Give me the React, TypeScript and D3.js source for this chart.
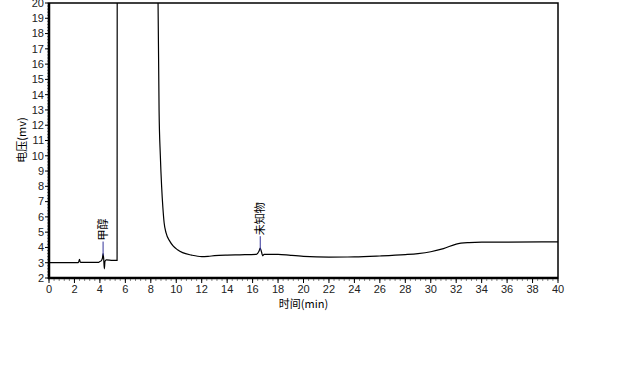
import React from "react";
import * as d3 from "d3";

const times = [0, 2.3, 2.4, 2.45, 2.5, 3.9, 4.0, 4.1, 4.2, 4.25, 4.3, 4.35, 4.4, 4.5, 5.0, 5.35, 5.36, 8.55, 8.57, 8.65, 8.75, 8.85, 8.95, 9.05, 9.2, 9.5, 9.75, 10.1, 10.5, 11.2, 12.0, 12.5, 13, 14, 15, 16.3, 16.5, 16.6, 16.7, 16.8, 16.9, 18, 19, 20, 22, 24, 26, 28, 29, 30, 31, 32, 33, 34, 40];
const volts = [3.0, 3.0, 3.22, 3.05, 3.02, 3.02, 3.08, 3.12, 3.3, 3.6, 3.25, 2.6, 3.1, 3.18, 3.15, 3.15, 21, 21, 20, 13, 10, 8, 6.6, 5.6, 4.95, 4.4, 4.1, 3.85, 3.66, 3.5, 3.4, 3.42, 3.46, 3.5, 3.52, 3.55, 3.75, 3.95, 3.7, 3.45, 3.55, 3.55, 3.48, 3.42, 3.37, 3.38, 3.44, 3.53, 3.6, 3.72, 3.92, 4.22, 4.32, 4.35, 4.36];

const peakNames = ["甲醇", "未知物"];
const peakTimes = [4.25, 16.6];
const peakValues = [3.6, 3.95];

const xTicks = d3.range(0, 41, 2);
const yTicks = d3.range(2, 21, 1);

export default function App() {
  const W = 640, H = 384;
  const left = 49, right = 558, top = 3, bottom = 278;
  const x = d3.scaleLinear().domain([0, 40]).range([left, right]);
  const y = d3.scaleLinear().domain([2, 20]).range([bottom, top]);
  const data = times.map((t, i) => [t, volts[i]] as [number, number]);
  const line = d3.line<[number, number]>().x(d => x(d[0])).y(d => y(d[1])).curve(d3.curveMonotoneX);
  const xMinor = d3.range(0, 40.01, 0.4);
  const yMinor = d3.range(2, 20.01, 0.2);
  const font = "'Liberation Sans', Arial, sans-serif";
  const cjk = "'Noto Sans CJK SC', sans-serif";
  return (
    <svg width={W} height={H} style={{ position: "absolute", left: 0, top: 0, background: "#fff" }}>
      <defs>
        <clipPath id="plot"><rect x={left} y={top} width={right - left} height={bottom - top} /></clipPath>
      </defs>
      <rect x={left} y={top} width={right - left} height={bottom - top} fill="none" stroke="#000" strokeWidth={1.5} />
      {yMinor.map((v, i) => (
        <line key={"ym" + i} x1={left - 2} x2={left} y1={y(v)} y2={y(v)} stroke="#888" strokeWidth={1} />
      ))}
      {xMinor.map((v, i) => (
        <line key={"xm" + i} x1={x(v)} x2={x(v)} y1={bottom} y2={bottom + 3} stroke="#888" strokeWidth={1} />
      ))}
      {yTicks.map(v => (
        <g key={"y" + v}>
          <line x1={left - 4} x2={left} y1={y(v)} y2={y(v)} stroke="#000" />
          <text x={left - 5} y={y(v)} dy="0.35em" textAnchor="end" fontSize={11} fontFamily={font} fill="#222">{v}</text>
        </g>
      ))}
      {xTicks.map(v => (
        <g key={"x" + v}>
          <line x1={x(v)} x2={x(v)} y1={bottom} y2={bottom + 5} stroke="#000" />
          <text x={x(v)} y={bottom + 15} textAnchor="middle" fontSize={11} fontFamily={font} fill="#222">{v}</text>
        </g>
      ))}
      <line x1={left} x2={left} y1={top} y2={bottom + 1} stroke="#000" strokeWidth={2.5} />
      <line x1={left - 1} x2={right} y1={bottom} y2={bottom} stroke="#000" strokeWidth={2.5} />
      <path d={line(data) || ""} fill="none" stroke="#000" strokeWidth={1.2} clipPath="url(#plot)" />
      {peakNames.map((n, i) => {
        const px = x(peakTimes[i]);
        const py = y(peakValues[i]);
        const lineTop = py - 12;
        return (
          <g key={n}>
            <line x1={px} x2={px} y1={py + 2} y2={lineTop} stroke="#33339a" strokeWidth={1} />
            <text transform={`translate(${px + 4},${lineTop - 1}) rotate(-90)`} textAnchor="start" fontSize={11} fontFamily={cjk} fill="#000">{n}</text>
          </g>
        );
      })}
      <text x={(left + right) / 2} y={308} textAnchor="middle" fontSize={11} fontFamily={cjk} fill="#000">时间(min)</text>
      <text transform={`translate(26,140) rotate(-90)`} textAnchor="middle" fontSize={11} fontFamily={cjk} fill="#000">电压(mv)</text>
    </svg>
  );
}
